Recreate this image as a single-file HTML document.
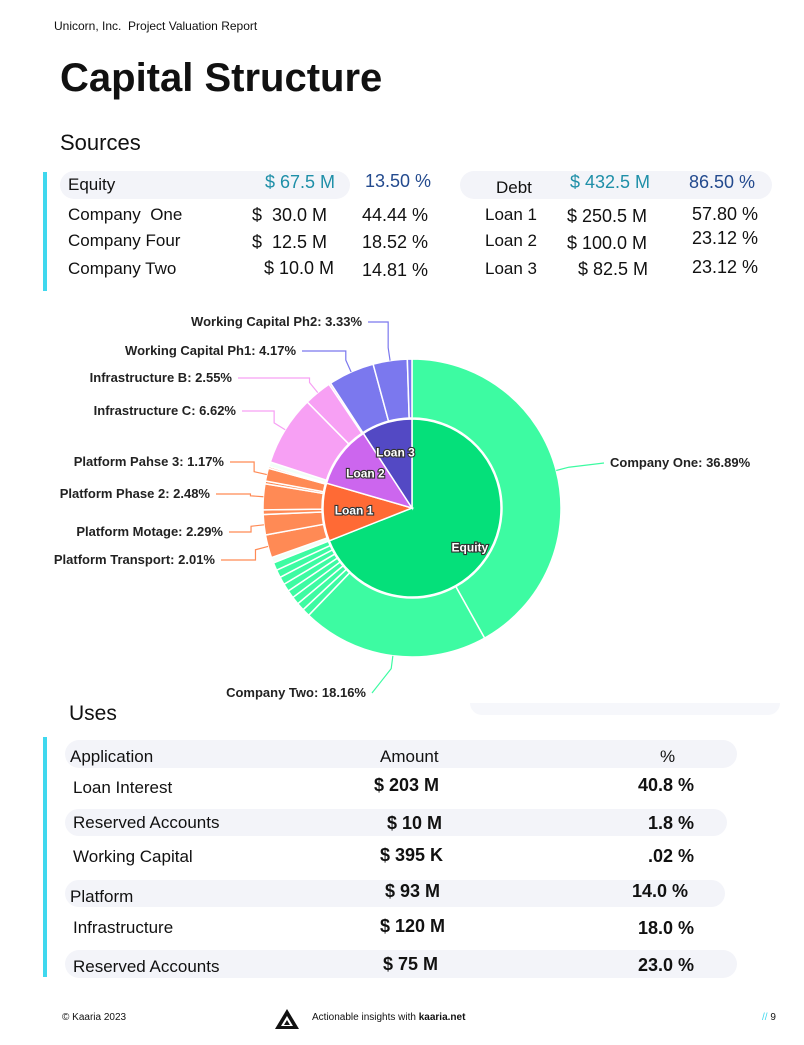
<!DOCTYPE html>
<html><head><meta charset="utf-8">
<style>
*{margin:0;padding:0;box-sizing:border-box}
body{width:804px;height:1045px;background:#fff;font-family:"Liberation Sans",sans-serif;color:#111;position:relative;overflow:hidden}
.a{position:absolute;white-space:nowrap}
.pill{position:absolute;background:#f3f4f9;border-radius:14px}
.t17{font-size:17px}
.b{font-weight:bold}
</style></head><body>
<div class="a" style="left:54px;top:19px;font-size:12px">Unicorn, Inc.&nbsp; Project Valuation Report</div>
<div class="a b" style="left:60px;top:56px;font-size:40px">Capital Structure</div>
<div class="a" style="left:60px;top:130px;font-size:22px">Sources</div>
<div class="a" style="left:43px;top:172px;width:4px;height:119px;background:#3fd8ee"></div>

<div class="pill" style="left:60px;top:171px;width:290px;height:28px"></div>
<div class="pill" style="left:460px;top:171px;width:312px;height:28px"></div>
<div class="a t17" style="left:68px;top:175px">Equity</div>
<div class="a t17" style="left:265px;top:172px;color:#1e8fa8;font-size:18px">$ 67.5 M</div>
<div class="a t17" style="left:365px;top:171px;color:#234a8e;font-size:18px">13.50 %</div>
<div class="a t17" style="left:496px;top:178px">Debt</div>
<div class="a t17" style="left:570px;top:172px;color:#1e8fa8;font-size:18px">$ 432.5 M</div>
<div class="a t17" style="left:689px;top:172px;color:#234a8e;font-size:18px">86.50 %</div>

<div class="a t17" style="left:68px;top:205px">Company&nbsp; One</div>
<div class="a t17" style="left:252px;top:205px;font-size:18px">$&nbsp;&nbsp;30.0 M</div>
<div class="a t17" style="left:362px;top:205px;font-size:18px">44.44 %</div>
<div class="a t17" style="left:68px;top:231px">Company Four</div>
<div class="a t17" style="left:252px;top:232px;font-size:18px">$&nbsp;&nbsp;12.5 M</div>
<div class="a t17" style="left:362px;top:232px;font-size:18px">18.52 %</div>
<div class="a t17" style="left:68px;top:259px">Company Two</div>
<div class="a t17" style="left:264px;top:258px;font-size:18px">$ 10.0 M</div>
<div class="a t17" style="left:362px;top:260px;font-size:18px">14.81 %</div>

<div class="a t17" style="left:485px;top:205px">Loan 1</div>
<div class="a t17" style="left:567px;top:206px;font-size:18px">$ 250.5 M</div>
<div class="a t17" style="left:692px;top:204px;font-size:18px">57.80 %</div>
<div class="a t17" style="left:485px;top:231px">Loan 2</div>
<div class="a t17" style="left:567px;top:233px;font-size:18px">$ 100.0 M</div>
<div class="a t17" style="left:692px;top:228px;font-size:18px">23.12 %</div>
<div class="a t17" style="left:485px;top:259px">Loan 3</div>
<div class="a t17" style="left:578px;top:259px;font-size:18px">$ 82.5 M</div>
<div class="a t17" style="left:692px;top:257px;font-size:18px">23.12 %</div>

<svg id="pie" class="a" style="left:0;top:300px" width="804" height="410" viewBox="0 300 804 410"></svg>

<div class="pill" style="left:470px;top:703px;width:310px;height:12px;border-radius:0 0 12px 12px;background:#f6f7fb"></div>
<div class="a" style="left:69px;top:702px;font-size:21px">Uses</div>
<div class="a" style="left:43px;top:737px;width:4px;height:240px;background:#3fd8ee"></div>

<div class="pill" style="left:65px;top:740px;width:672px;height:28px"></div>
<div class="a t17" style="left:70px;top:747px">Application</div>
<div class="a t17" style="left:380px;top:747px">Amount</div>
<div class="a t17" style="left:660px;top:747px">%</div>

<div class="a t17" style="left:73px;top:778px">Loan Interest</div>
<div class="a t17 b" style="left:374px;top:775px;font-size:18px">$ 203 M</div>
<div class="a t17 b" style="left:638px;top:775px;font-size:18px">40.8 %</div>

<div class="pill" style="left:65px;top:809px;width:662px;height:27px"></div>
<div class="a t17" style="left:73px;top:813px">Reserved Accounts</div>
<div class="a t17 b" style="left:387px;top:813px;font-size:18px">$ 10 M</div>
<div class="a t17 b" style="left:648px;top:813px;font-size:18px">1.8 %</div>

<div class="a t17" style="left:73px;top:847px">Working Capital</div>
<div class="a t17 b" style="left:380px;top:845px;font-size:18px">$ 395 K</div>
<div class="a t17 b" style="left:648px;top:846px;font-size:18px">.02 %</div>

<div class="pill" style="left:65px;top:880px;width:660px;height:27px"></div>
<div class="a t17" style="left:70px;top:887px">Platform</div>
<div class="a t17 b" style="left:385px;top:881px;font-size:18px">$ 93 M</div>
<div class="a t17 b" style="left:632px;top:881px;font-size:18px">14.0 %</div>

<div class="a t17" style="left:73px;top:918px">Infrastructure</div>
<div class="a t17 b" style="left:380px;top:916px;font-size:18px">$ 120 M</div>
<div class="a t17 b" style="left:638px;top:918px;font-size:18px">18.0 %</div>

<div class="pill" style="left:65px;top:950px;width:672px;height:28px"></div>
<div class="a t17" style="left:73px;top:957px">Reserved Accounts</div>
<div class="a t17 b" style="left:383px;top:954px;font-size:18px">$ 75 M</div>
<div class="a t17 b" style="left:638px;top:955px;font-size:18px">23.0 %</div>

<div class="a" style="left:62px;top:1012px;font-size:10px">© Kaaria 2023</div>
<svg class="a" style="left:274px;top:1008px" width="26" height="22" viewBox="0 0 26 22"><path d="M13 1 L25 21 H1 Z" fill="#111"/><path d="M13 8 L19 18 H7 Z" fill="#fff"/><path d="M13 12 L16 17 H10 Z" fill="#111"/></svg>
<div class="a" style="left:312px;top:1012px;font-size:10px">Actionable insights with <b>kaaria.net</b></div>
<div class="a" style="left:762px;top:1012px;font-size:10px"><span style="color:#3fd8ee">//</span> 9</div>

<script>
const innerLabels=["Equity","Loan 1","Loan 2","Loan 3"];
const innerValues=[69.0,10.5,11.3,9.2];
const innerColors=["#05e07a","#ff6a35","#cc66ee","#5349c4"];
const outerNames=["Company One","Company Two","s1","s2","s3","s4","s5","s6","s7","s8",
"gap1","Platform Transport","Platform Motage","p-s1","Platform Phase 2","p-s2","Platform Pahse 3","p-s3",
"gap2","Infrastructure C","Infrastructure B","i-s1",
"Working Capital Ph1","Working Capital Ph2","w-s1"];
const outerValues=[41.9,20.3,0.85,0.85,0.85,0.85,0.85,0.85,0.85,0.85,
0.6,2.5,2.2,0.5,2.8,0.3,1.4,0.2,
0.5,7.6,3.0,0.2,
5.0,3.7,0.5];
const outerParent=[0,0,0,0,0,0,0,0,0,0,1,1,1,1,1,1,1,1,2,2,2,2,3,3,3];
const outerLabels=["Company One: 36.89%","Company Two: 18.16%","","","","","","","","",
"","Platform Transport: 2.01%","Platform Motage: 2.29%","","Platform Phase 2: 2.48%","","Platform Pahse 3: 1.17%","",
"","Infrastructure C: 6.62%","Infrastructure B: 2.55%","","Working Capital Ph1: 4.17%","Working Capital Ph2: 3.33%",""];
const labelAnchors=[[610,463],[366,693],0,0,0,0,0,0,0,0,0,[215,560],[223,532],0,[210,494],0,[224,462],0,0,[236,411],[232,378],0,[296,351],[362,322],0];
const NS="http://www.w3.org/2000/svg";
const svg=document.getElementById('pie');
const cx=412,cy=508;
function ang(v,total){return v/total*2*Math.PI;}
function pt(r,a){return [cx+r*Math.sin(a),cy-r*Math.cos(a)];}
function arc(r0,r1,a0,a1){
 const [x0,y0]=pt(r1,a0),[x1,y1]=pt(r1,a1),[x2,y2]=pt(r0,a1),[x3,y3]=pt(r0,a0);
 const lg=(a1-a0)>Math.PI?1:0;
 if(r0<=0) return `M${cx},${cy}L${x0},${y0}A${r1},${r1} 0 ${lg} 1 ${x1},${y1}Z`;
 return `M${x0},${y0}A${r1},${r1} 0 ${lg} 1 ${x1},${y1}L${x2},${y2}A${r0},${r0} 0 ${lg} 0 ${x3},${y3}Z`;
}
const outerColors=["#3dfba2","#ff8a55","#f7a0f4","#7b78ee"];
const totOuter=outerValues.reduce((a,b)=>a+b,0);
let a=0;
outerValues.forEach((v,i)=>{
 const a1=a+ang(v,totOuter);
 const isGap=outerNames[i].startsWith('gap');
 const p=document.createElementNS(NS,'path');
 p.setAttribute('d',arc(90,149,a,a1));
 p.setAttribute('fill',isGap?'#f2fff8':outerColors[outerParent[i]]);
 p.setAttribute('stroke','#fff');p.setAttribute('stroke-width','1.5');
 
 
 svg.appendChild(p);
 if(outerLabels[i]){
  const mid=(a+a1)/2;const [ex,ey]=pt(149,mid);const [mx,my]=pt(162,mid);
  const [lx,ly]=labelAnchors[i];
  const right=lx>cx;
  const ln=document.createElementNS(NS,'polyline');
  const endx=right?lx-6:lx+6;
  ln.setAttribute('points',`${ex},${ey} ${mx},${my} ${mx},${ly} ${endx},${ly}`);
  if(i===0||i===1) ln.setAttribute('points',`${ex},${ey} ${mx},${my} ${endx},${ly}`);
  ln.setAttribute('fill','none');ln.setAttribute('stroke',outerColors[outerParent[i]]);ln.setAttribute('stroke-width','1.2');
  
  
  svg.appendChild(ln);
  const t=document.createElementNS(NS,'text');
  t.setAttribute('x',lx);t.setAttribute('y',ly+4);
  t.setAttribute('text-anchor',right?'start':'end');
  t.setAttribute('font-size','13');t.setAttribute('font-weight','bold');t.setAttribute('fill','#222');
  t.setAttribute('font-family','Liberation Sans, sans-serif');
  t.textContent=outerLabels[i];
  
  
  svg.appendChild(t);
 }
 a=a1;
});
const totInner=innerValues.reduce((x,y)=>x+y,0);
a=0;
innerValues.forEach((v,i)=>{
 const a1=a+ang(v,totInner);
 const p=document.createElementNS(NS,'path');
 p.setAttribute('d',arc(0,89,a,a1));
 p.setAttribute('fill',innerColors[i]);p.setAttribute('stroke','#fff');p.setAttribute('stroke-width','1.5');
 
 
 svg.appendChild(p);
 const mid=(a+a1)/2;const [tx,ty]=pt(i===0?70:58,mid);
 const t=document.createElementNS(NS,'text');
 t.setAttribute('x',tx);t.setAttribute('y',ty+4);t.setAttribute('text-anchor','middle');
 t.setAttribute('font-size','12');t.setAttribute('font-weight','bold');t.setAttribute('fill','#fff');
 t.setAttribute('stroke','#333');t.setAttribute('stroke-width','2.2');t.setAttribute('paint-order','stroke');
 t.setAttribute('font-family','Liberation Sans, sans-serif');
 t.textContent=innerLabels[i];
 
 
 svg.appendChild(t);
 a=a1;
});
</script>
</body></html>
